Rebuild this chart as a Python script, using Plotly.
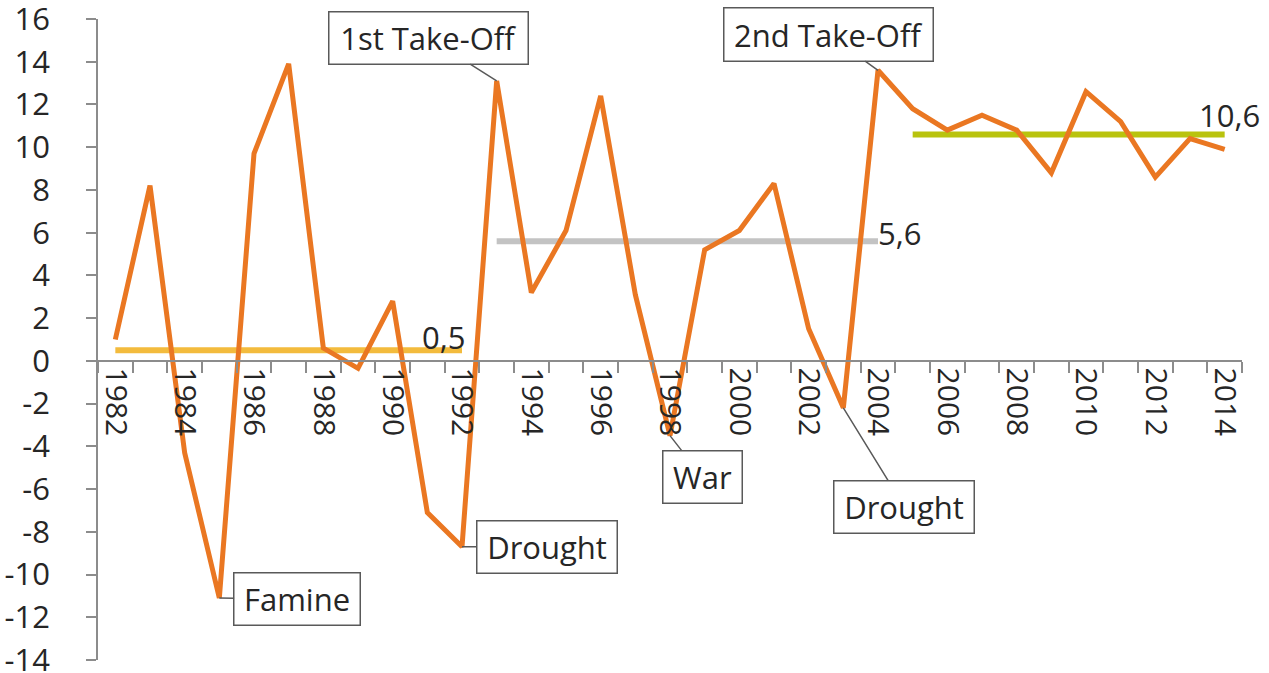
import plotly.graph_objects as go

# ---- data ----
years = list(range(1982, 2015))
growth = [1.0, 8.2, -4.3, -11.1, 9.7, 13.9, 0.6, -0.35, 2.8, -7.1, -8.7,
          13.1, 3.2, 6.1, 12.4, 3.1, -3.5, 5.2, 6.1, 8.3, 1.5, -2.2,
          13.6, 11.8, 10.8, 11.5, 10.8, 8.8, 12.6, 11.2, 8.6, 10.4, 9.9]

avg_start = [1982, 1993, 2005]
avg_end = [1992, 2004, 2014]
avg_value = [0.5, 5.6, 10.6]
avg_label = ["0,5", "5,6", "10,6"]
avg_color = ["#F3BB3D", "#C3C3C3", "#B9C30E"]

event_year = [1993, 2004, 1985, 1992, 1998, 2003]
event_text = ["1st Take-Off", "2nd Take-Off", "Famine", "Drought", "War", "Drought"]

x_label_years = list(range(1982, 2015, 2))
y_ticks = list(range(-14, 17, 2))

FONT = "Open Sans"
TXT = "#262626"
AXC = "#8C8C8C"

fig = go.Figure()

for s, e, v, c in zip(avg_start, avg_end, avg_value, avg_color):
    fig.add_trace(go.Scatter(x=[s, e], y=[v, v], mode="lines",
                             line=dict(color=c, width=6), hoverinfo="skip",
                             showlegend=False))

fig.add_trace(go.Scatter(x=years, y=growth, mode="lines",
                         line=dict(color="#EA7722", width=5),
                         showlegend=False))

# average labels
lab_pos = [
    dict(xanchor="right", yanchor="middle", xshift=5, yshift=13),
    dict(xanchor="left", yanchor="middle", xshift=-2, yshift=8),
    dict(xanchor="center", yanchor="middle", xshift=5, yshift=19),
]
for e, v, t, p in zip(avg_end, avg_value, avg_label, lab_pos):
    fig.add_annotation(x=e, y=v, text=t, showarrow=False,
                       font=dict(family=FONT, size=31, color=TXT), **p)

# callouts: (dx, dy) pixel offset of box centre from the point, box size
callout_geom = [
    (-68, -43, 188, 41),
    (-50, -36, 198, 42),
    (78, 1, 115, 41),
    (85, 0, 129, 41),
    (32, 41, 68, 41),
    (61, 99, 129, 41),
]
val_by_year = dict(zip(years, growth))
for yr, txt, (dx, dy, w, h) in zip(event_year, event_text, callout_geom):
    fig.add_annotation(x=yr, y=val_by_year[yr], text=txt, showarrow=True,
                       ax=dx, ay=dy, arrowhead=0, arrowwidth=1.5,
                       arrowcolor="#595959", standoff=0,
                       bgcolor="white", bordercolor="#595959", borderwidth=1.5,
                       borderpad=5, width=w, height=h,
                       font=dict(family=FONT, size=31, color=TXT))

fig.update_layout(
    width=1269, height=673,
    margin=dict(l=98, r=27, t=19, b=13, autoexpand=False),
    plot_bgcolor="white", paper_bgcolor="white",
    font=dict(family=FONT, size=30, color=TXT),
    xaxis=dict(
        range=[1981.5, 2014.5], anchor="free", position=14 / 30,
        automargin=False,
        showgrid=False, zeroline=False, showline=True, linecolor=AXC,
        linewidth=1.5,
        tickmode="array", tickvals=x_label_years,
        ticktext=[str(y) for y in x_label_years],
        ticks="", tickangle=90,
        tickfont=dict(family=FONT, size=30, color=TXT),
        minor=dict(tickmode="array",
                   tickvals=[y - 0.5 for y in years] + [years[-1] + 0.5],
                   ticks="outside", ticklen=11, tickcolor=AXC, tickwidth=1.5,
                   showgrid=False),
    ),
    yaxis=dict(
        range=[-14, 16], automargin=False,
        showgrid=False, zeroline=False, showline=True,
        linecolor=AXC, linewidth=1.5,
        tickmode="array", tickvals=y_ticks, ticktext=[str(v) for v in y_ticks],
        ticks="outside", ticklen=10, tickcolor=AXC, tickwidth=1.5,
        ticklabelstandoff=30, ticklabeloverflow="allow",
        tickfont=dict(family=FONT, size=31, color=TXT),
    ),
)

fig.write_html("out.html", config={"displayModeBar": False},
               post_script="document.body.style.margin='0';"
                           "document.body.style.overflow='hidden';")
